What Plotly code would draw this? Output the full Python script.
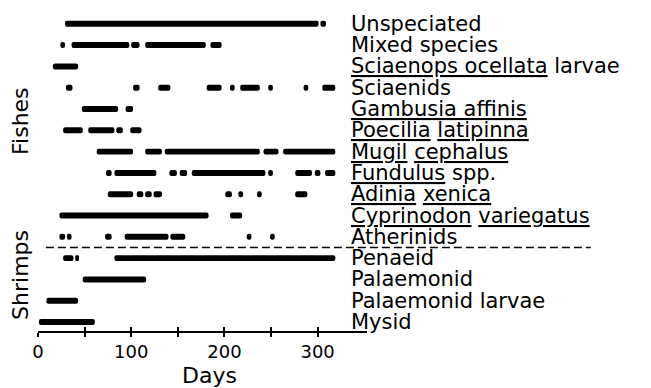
import plotly.graph_objects as go

# time ranges (days) in which each group was caught, one list per row
unspeciated = [(29, 301), (303, 309)]
mixed_species = [(24, 29), (36, 98), (100, 109), (115, 180), (185, 197)]
sciaenops_larvae = [(16, 43)]
sciaenids = [(30, 37), (102, 109), (129, 142), (181, 197), (206, 211), (217, 238),
             (247, 252), (285, 290), (305, 319)]
gambusia = [(47, 86), (94, 102)]
poecilia = [(27, 48), (54, 82), (84, 91), (99, 111)]
mugil = [(63, 102), (115, 133), (136, 238), (242, 258), (263, 319)]
fundulus = [(73, 79), (82, 127), (141, 149), (152, 160), (165, 244), (247, 252),
            (276, 294), (297, 303), (308, 319)]
adinia = [(75, 102), (106, 113), (115, 122), (124, 133), (201, 208), (215, 220),
          (235, 240), (276, 289)]
cyprinodon = [(23, 183), (206, 219)]
atherinids = [(23, 29), (31, 36), (72, 79), (93, 140), (142, 158), (224, 229), (249, 254)]
penaeid = [(27, 38), (40, 44), (82, 319)]
palaemonid = [(48, 116)]
palaemonid_larvae = [(9, 43)]
mysid = [(1, 61)]

# top to bottom
labels = [
    "Unspeciated",
    "Mixed species",
    "<u>Sciaenops ocellata</u> larvae",
    "Sciaenids",
    "<u>Gambusia affinis</u>",
    "<u>Poecilia</u> <u>latipinna</u>",
    "<u>Mugil</u> <u>cephalus</u>",
    "<u>Fundulus</u> spp.",
    "<u>Adinia</u> <u>xenica</u>",
    "<u>Cyprinodon</u> <u>variegatus</u>",
    "Atherinids",
    "Penaeid",
    "Palaemonid",
    "Palaemonid larvae",
    "Mysid",
]
ranges = [unspeciated, mixed_species, sciaenops_larvae, sciaenids, gambusia, poecilia,
          mugil, fundulus, adinia, cyprinodon, atherinids, penaeid, palaemonid,
          palaemonid_larvae, mysid]

tick_vals = [0, 50, 100, 150, 200, 250, 300]
tick_text = ["0", "", "100", "", "200", "", "300"]

FONT = "DejaVu Sans"
n = len(labels)
y_lo, y_hi = -0.42, n - 0.4

base, length, rows = [], [], []
for i, segs in enumerate(ranges):
    row = n - 1 - i
    for a, b in segs:
        base.append(a)
        length.append(b - a)
        rows.append(row)

fig = go.Figure()
fig.add_trace(go.Bar(
    orientation="h", base=base, x=length, y=rows, width=0.28,
    marker=dict(color="black", cornerradius=3, line=dict(width=0)),
    showlegend=False, hoverinfo="skip",
))
# empty trace so the overlay axis (ticks pointing up) is drawn
fig.add_trace(go.Scatter(x=[None], y=[None], xaxis="x2", showlegend=False))

ann = []
for i, lab in enumerate(labels):
    ann.append(dict(x=334, y=n - 1 - i, xref="x", yref="y", text=lab, showarrow=False,
                    xanchor="left", yanchor="middle",
                    font=dict(size=21, color="black", family=FONT)))
ann.append(dict(x=-0.055, y=0.656, xref="paper", yref="paper", text="Fishes", showarrow=False,
                xanchor="center", yanchor="middle", textangle=-90,
                font=dict(size=22, color="black", family=FONT)))
ann.append(dict(x=-0.055, y=0.175, xref="paper", yref="paper", text="Shrimps", showarrow=False,
                xanchor="center", yanchor="middle", textangle=-90,
                font=dict(size=22, color="black", family=FONT)))
ann.append(dict(x=0.52, y=-0.1375, xref="paper", yref="paper", text="Days", showarrow=False,
                xanchor="center", yanchor="middle",
                font=dict(size=22, color="black", family=FONT)))

# dashed line between fishes and shrimps
sep_y = (3.5 - y_lo) / (y_hi - y_lo)
fig.add_shape(type="line", xref="paper", yref="paper", x0=0.024, x1=1.68, y0=sep_y, y1=sep_y,
              line=dict(color="black", width=1.5, dash="8px,4px"))

fig.update_layout(
    width=643, height=380,
    margin=dict(l=30, r=284, t=3, b=57),
    plot_bgcolor="white", paper_bgcolor="white",
    barmode="overlay",
    annotations=ann,
    xaxis=dict(range=[0, 353], tickvals=tick_vals, ticktext=tick_text, ticks="outside",
               ticklen=4, tickwidth=1.5, tickcolor="black", showline=True, linecolor="black",
               linewidth=1.5, showgrid=False, zeroline=False,
               tickfont=dict(size=18, color="black", family=FONT)),
    xaxis2=dict(range=[0, 353], overlaying="x", anchor="y", side="bottom", tickvals=tick_vals,
                ticks="inside", ticklen=4, tickwidth=1.5, tickcolor="black",
                showticklabels=False, showgrid=False, zeroline=False, showline=False),
    yaxis=dict(range=[y_lo, y_hi], visible=False),
)

fig.write_html("out.html")
